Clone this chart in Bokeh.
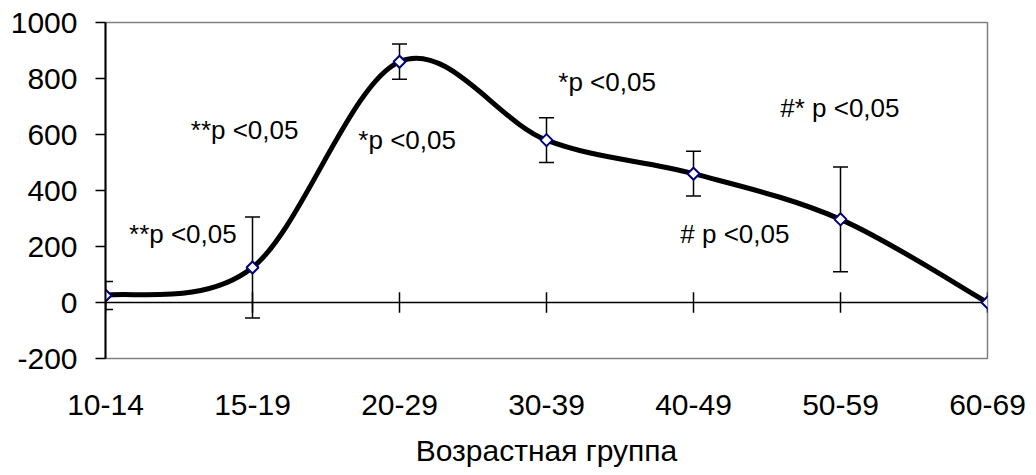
from bokeh.plotting import figure
from bokeh.models import (Range1d, FixedTicker, ColumnDataSource, Whisker, TeeHead,
                          Span)
from bokeh.core.properties import value
from bokeh.embed import file_html
from bokeh.resources import INLINE

# ---- data ----
categories = ["10-14", "15-19", "20-29", "30-39", "40-49", "50-59", "60-69"]
means = [25, 125, 860, 580, 460, 297, 0]
errors = [50, 180, 63, 80, 80, 187, 0]
y_ticks = [-200, 0, 200, 400, 600, 800, 1000]
x_title = "Возрастная группа"

# annotations (text, x in category units, y in value units)
notes = ["**p <0,05", "**p <0,05", "*p <0,05", "*p <0,05", "# p <0,05", "#* p <0,05"]
note_x = [0.16, 0.58, 1.72, 3.08, 3.91, 4.59]
note_y = [245, 615, 580, 787, 245, 694]

FONT = "Liberation Sans"
xs = list(range(len(categories)))

p = figure(width=1030, height=475, x_range=Range1d(0, len(categories) - 1),
           y_range=Range1d(-200, 1000), output_backend="svg", toolbar_location=None,
           min_border_left=105, min_border_right=43, min_border_top=22,
           min_border_bottom=117)
p.background_fill_color = "white"
p.border_fill_color = "white"
p.outline_line_color = "#808080"
p.outline_line_width = 1.5
p.xgrid.visible = False
p.ygrid.visible = False

# y axis
ya = p.yaxis[0]
ya.ticker = FixedTicker(ticks=y_ticks)
ya.major_label_overrides = {t: str(t) for t in y_ticks}
ya.axis_line_color = "black"
ya.axis_line_width = 2
ya.major_tick_line_color = "black"
ya.major_tick_line_width = 1.5
ya.major_tick_in = 0
ya.major_tick_out = 10
ya.minor_tick_line_color = None
ya.major_label_standoff = 18
ya.major_label_text_font = FONT
ya.major_label_text_font_size = "30px"
ya.major_label_text_color = "black"

# x axis (labels only, below the frame)
xa = p.xaxis[0]
xa.ticker = FixedTicker(ticks=xs)
xa.major_label_overrides = {i: c for i, c in enumerate(categories)}
xa.axis_line_color = None
xa.major_tick_line_color = None
xa.minor_tick_line_color = None
xa.major_label_standoff = 30
xa.major_label_text_font = FONT
xa.major_label_text_font_size = "30px"
xa.major_label_text_color = "black"
xa.axis_label = x_title
xa.axis_label_text_font = FONT
xa.axis_label_text_font_size = "30px"
xa.axis_label_text_font_style = "normal"
xa.axis_label_text_color = "black"
xa.axis_label_standoff = 16

# zero line with cross ticks
zero = Span(location=0, dimension="width", line_color="black", line_width=1.5,
            level="underlay")
p.add_layout(zero)
p.segment(x0=xs, y0=[-37] * len(xs), x1=xs, y1=[37] * len(xs),
          line_color="black", line_width=1.5, level="underlay")

# error bars
eb_x = [x for x, e in zip(xs, errors) if e > 0]
eb_up = [m + e for m, e in zip(means, errors) if e > 0]
eb_lo = [m - e for m, e in zip(means, errors) if e > 0]
esrc = ColumnDataSource(dict(x=eb_x, upper=eb_up, lower=eb_lo))
wh = Whisker(base="x", upper="upper", lower="lower", source=esrc,
             line_color="black", line_width=1.5, level="underlay",
             upper_head=TeeHead(size=15, line_color="black", line_width=1.5),
             lower_head=TeeHead(size=15, line_color="black", line_width=1.5))
p.add_layout(wh)

# smoothed curve through the points (Catmull-Rom -> cubic Bezier controls)
n = len(xs)
x0, y0, x1, y1, cx0, cy0, cx1, cy1 = [], [], [], [], [], [], [], []
for i in range(n - 1):
    pm = max(i - 1, 0)
    pn = min(i + 2, n - 1)
    x0.append(xs[i]); y0.append(means[i])
    x1.append(xs[i + 1]); y1.append(means[i + 1])
    cx0.append(xs[i] + (xs[i + 1] - xs[pm]) / 6)
    cy0.append(means[i] + (means[i + 1] - means[pm]) / 6)
    cx1.append(xs[i + 1] - (xs[pn] - xs[i]) / 6)
    cy1.append(means[i + 1] - (means[pn] - means[i]) / 6)
p.bezier(x0=x0, y0=y0, x1=x1, y1=y1, cx0=cx0, cy0=cy0, cx1=cx1, cy1=cy1,
         line_color="black", line_width=5)

# markers
p.scatter(xs, means, marker="square", angle=0.785398, size=8.5,
          fill_color="white", line_color="#000080", line_width=2)

# annotations
p.text(x=note_x, y=note_y, text=notes, text_font=value(FONT),
       text_font_size=value("26px"), text_color="black",
       text_align="left", text_baseline="middle")

open("out.html", "w").write(file_html(p, INLINE))
